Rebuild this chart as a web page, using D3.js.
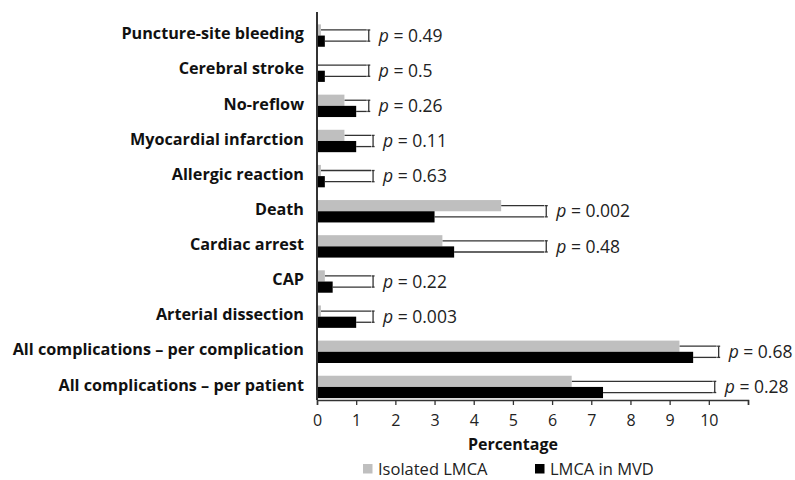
<!DOCTYPE html>
<html>
<head>
<meta charset="utf-8">
<script src="https://cdn.jsdelivr.net/npm/d3@7"></script>
<style>
  body { margin: 0; background: #fff; }
  svg { display: block; font-family: "Open Sans", sans-serif; }
</style>
</head>
<body>
<svg></svg>
<script>
const width = 795;
const height = 480;

// complication categories, top to bottom
const categories = [
    "Puncture-site bleeding",
    "Cerebral stroke",
    "No-reflow",
    "Myocardial infarction",
    "Allergic reaction",
    "Death",
    "Cardiac arrest",
    "CAP",
    "Arterial dissection",
    "All complications \u2013 per complication",
    "All complications \u2013 per patient"
];
const isolatedLMCA = [0.1, 0, 0.7, 0.7, 0.1, 4.7, 3.2, 0.2, 0.1, 9.25, 6.5];
const lmcaInMVD = [0.2, 0.2, 1.0, 1.0, 0.2, 3.0, 3.5, 0.4, 1.0, 9.6, 7.3];
// where the p-value bracket ends (percentage units)
const bracketEnd = [1.27, 1.27, 1.27, 1.38, 1.38, 5.8, 5.8, 1.38, 1.38, 10.2, 10.1];
const pValues = ["0.49", "0.5", "0.26", "0.11", "0.63", "0.002", "0.48", "0.22", "0.003", "0.68", "0.28"];
const xTicks = [0, 1, 2, 3, 4, 5, 6, 7, 8, 9, 10];

const series = [
    { name: "Isolated LMCA", values: isolatedLMCA, color: "#bfbfbf" },
    { name: "LMCA in MVD", values: lmcaInMVD, color: "#000000" }
];

const svg = d3.select("svg")
    .attr("width", width)
    .attr("height", height);

const x = d3.scaleLinear().domain([0, 11]).range([317, 748]);
const y = d3.scaleBand().domain(categories).range([18, 404.5]);
const sub = d3.scaleBand().domain([0, 1]).range([-11.2, 11.2]);

const rows = categories.map((c, i) => ({
    name: c,
    iso: isolatedLMCA[i],
    mvd: lmcaInMVD[i],
    br: bracketEnd[i],
    p: pValues[i],
    cy: y(c) + y.bandwidth() / 2
}));

// bracket lines
const br = svg.append("g").attr("stroke", "#333").attr("stroke-width", 1.3).attr("fill", "none");
rows.forEach(d => {
    const yTop = d.cy + sub(0) + sub.bandwidth() / 2;
    const yBot = d.cy + sub(1) + sub.bandwidth() / 2;
    br.append("line").attr("x1", x(d.iso)).attr("x2", x(d.br)).attr("y1", yTop).attr("y2", yTop);
    br.append("line").attr("x1", x(d.mvd)).attr("x2", x(d.br)).attr("y1", yBot).attr("y2", yBot);
    const vx = x(d.br) + 2;
    br.append("line").attr("x1", vx).attr("x2", vx).attr("y1", yTop).attr("y2", yBot);
    br.append("line").attr("x1", vx - 1.5).attr("x2", vx + 1.5).attr("y1", yTop).attr("y2", yTop);
    br.append("line").attr("x1", vx - 1.5).attr("x2", vx + 1.5).attr("y1", yBot).attr("y2", yBot);
});

// bars
series.forEach((s, si) => {
    svg.append("g").selectAll("rect")
        .data(rows)
        .enter()
        .append("rect")
        .attr("x", x(0))
        .attr("y", d => d.cy + sub(si))
        .attr("width", (d, i) => x(s.values[i]) - x(0))
        .attr("height", sub.bandwidth())
        .attr("fill", s.color);
});

// p-value labels
const pl = svg.append("g").selectAll("text")
    .data(rows)
    .enter()
    .append("text")
    .attr("x", d => x(d.br) + 12)
    .attr("y", d => d.cy)
    .attr("dy", "0.35em")
    .style("font-size", "17.5px")
    .style("fill", "#222");
pl.append("tspan").style("font-style", "italic").text("p");
pl.append("tspan").text(d => " = " + d.p);

// category labels
svg.append("g").selectAll("text")
    .data(rows)
    .enter()
    .append("text")
    .attr("x", 304)
    .attr("y", d => d.cy - 2)
    .attr("dy", "0.35em")
    .attr("text-anchor", "end")
    .style("font-size", "16.2px")
    .style("font-weight", "bold")
    .style("fill", "#111")
    .text(d => d.name);

// axes
svg.append("line")
    .attr("x1", x(0)).attr("x2", x(0))
    .attr("y1", 12).attr("y2", 400)
    .attr("stroke", "#333").attr("stroke-width", 2);

const xAxis = svg.append("g")
    .attr("transform", "translate(0,400)")
    .call(d3.axisBottom(x).tickValues(d3.range(0, 12)).tickSize(5).tickFormat(d => xTicks.includes(d) ? d : ""));
xAxis.select(".domain").attr("stroke", "#333").attr("stroke-width", 1.5);
xAxis.selectAll(".tick line").attr("stroke", "#333").attr("stroke-width", 1.3);
xAxis.selectAll(".tick text")
    .attr("y", 0)
    .attr("dy", 0)
    .attr("transform", "translate(0,26)")
    .style("font-size", "16px")
    .style("font-family", "Open Sans, sans-serif")
    .style("fill", "#222");

svg.append("text")
    .attr("x", (x(0) + x(10)) / 2)
    .attr("y", 450)
    .attr("text-anchor", "middle")
    .style("font-size", "16px")
    .style("font-weight", "bold")
    .style("fill", "#111")
    .text("Percentage");

// legend
const legendX = [363, 535];
const lg = svg.append("g").selectAll("g")
    .data(series)
    .enter()
    .append("g")
    .attr("transform", (d, i) => `translate(${legendX[i]},464)`);
lg.append("rect").attr("width", 9.5).attr("height", 9.5).attr("fill", d => d.color);
lg.append("text")
    .attr("x", 15)
    .attr("y", 11)
    .style("font-size", "16.5px")
    .style("fill", "#222")
    .text(d => d.name);
</script>
</body>
</html>
